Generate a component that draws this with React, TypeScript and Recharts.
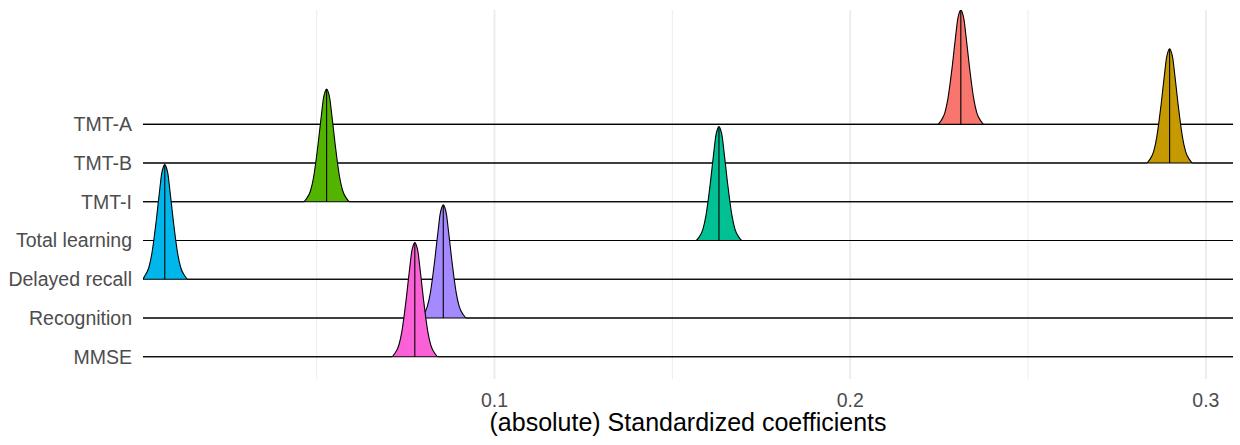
import React from 'react';
import {
  ComposedChart,
  Area,
  XAxis,
  YAxis,
  CartesianGrid,
  ReferenceLine,
} from 'recharts';

// rows from bottom (1) to top (7)
const rowLabels = ['MMSE', 'Recognition', 'Delayed recall', 'Total learning', 'TMT-I', 'TMT-B', 'TMT-A'];
const rowCenters = [0.0776, 0.0856, 0.0073, 0.1631, 0.0528, 0.2898, 0.2311];
const rowPeaks = [2.95, 2.92, 2.96, 2.94, 2.91, 2.95, 2.95];
const rowColors = ['#FB61D7', '#A58AFF', '#00B6EB', '#00C094', '#53B400', '#C49A00', '#F8766D'];

// ridge shape: offset from the centre and relative height
const profileOffsets = [
  -0.0065, -0.0056, -0.0045, -0.00365, -0.003, -0.0024, -0.0019, -0.00135, -0.00093, -0.00045, 0,
  0.00045, 0.00093, 0.00135, 0.0019, 0.0024, 0.003, 0.00365, 0.0045, 0.0056, 0.0065,
];
const profileHeights = [
  0, 0.03, 0.1, 0.22, 0.36, 0.51, 0.65, 0.8, 0.91, 0.975, 1,
  0.975, 0.91, 0.8, 0.65, 0.51, 0.36, 0.22, 0.1, 0.03, 0,
];

const majorTicks = [0.1, 0.2, 0.3];
const minorTicks = [0.05, 0.15, 0.25];
const rowTicks = [1, 2, 3, 4, 5, 6, 7];

const X_MIN = 0.00118;
const X_MAX = 0.30762;

const FONT = '"Liberation Sans", Arial, Helvetica, sans-serif';

type Pt = { x: number; v: [number, number] };

const buildRidge = (i: number): Pt[] => {
  const base = i + 1;
  const pts: Pt[] = [{ x: X_MIN, v: [base, base] }];
  profileOffsets.forEach((off, k) => {
    const x = rowCenters[i] + off;
    if (x > X_MIN && x < X_MAX) {
      pts.push({ x, v: [base, base + rowPeaks[i] * profileHeights[k]] });
    }
  });
  pts.push({ x: X_MAX, v: [base, base] });
  return pts;
};

const ridges = rowLabels.map((_, i) => buildRidge(i));

// draw the top row first so lower ridges sit in front
const drawOrder = [6, 5, 4, 3, 2, 1, 0];

export default function App() {
  return (
    <div style={{ width: 1240, height: 445, fontFamily: FONT }}>
      <style>{'body { margin: 0; }'}</style>
      <ComposedChart
        width={1240}
        height={445}
        margin={{ top: 10, right: 7, bottom: 0, left: 0 }}
      >
        <CartesianGrid
          vertical
          horizontal={false}
          syncWithTicks
          verticalValues={majorTicks}
          stroke="#EBEBEB"
          strokeWidth={1.8}
        />
        <CartesianGrid
          vertical
          horizontal={false}
          syncWithTicks
          verticalValues={minorTicks}
          stroke="#EBEBEB"
          strokeWidth={0.9}
        />
        <XAxis
          type="number"
          dataKey="x"
          domain={[X_MIN, X_MAX]}
          allowDataOverflow
          ticks={majorTicks}
          interval={0}
          axisLine={false}
          tickLine={false}
          tickSize={0}
          tickMargin={14}
          height={66}
          tick={{ fill: '#4D4D4D', fontSize: 19.5, fontFamily: FONT }}
          label={{
            value: '(absolute) Standardized coefficients',
            position: 'insideBottom',
            offset: 14,
            fill: '#000000',
            fontSize: 25,
            fontFamily: FONT,
          }}
        />
        <YAxis
          type="number"
          domain={[0.424, 9.952]}
          allowDataOverflow
          ticks={rowTicks}
          interval={0}
          width={143}
          axisLine={false}
          tickLine={false}
          tickSize={0}
          tickMargin={11}
          tickFormatter={(v: number) => rowLabels[v - 1] ?? ''}
          tick={{ fill: '#4D4D4D', fontSize: 19.5, fontFamily: FONT }}
        />
        {drawOrder.map((i) => (
          <Area
            key={rowLabels[i]}
            data={ridges[i]}
            dataKey="v"
            type="monotoneX"
            fill={rowColors[i]}
            fillOpacity={1}
            stroke="#000000"
            strokeWidth={1.1}
            isAnimationActive={false}
            dot={false}
            activeDot={false}
          />
        ))}
        {drawOrder.map((i) => (
          <ReferenceLine
            key={'med-' + rowLabels[i]}
            segment={[
              { x: rowCenters[i], y: i + 1 },
              { x: rowCenters[i], y: i + 1 + rowPeaks[i] },
            ]}
            stroke="#000000"
            strokeWidth={1.1}
          />
        ))}
      </ComposedChart>
    </div>
  );
}
